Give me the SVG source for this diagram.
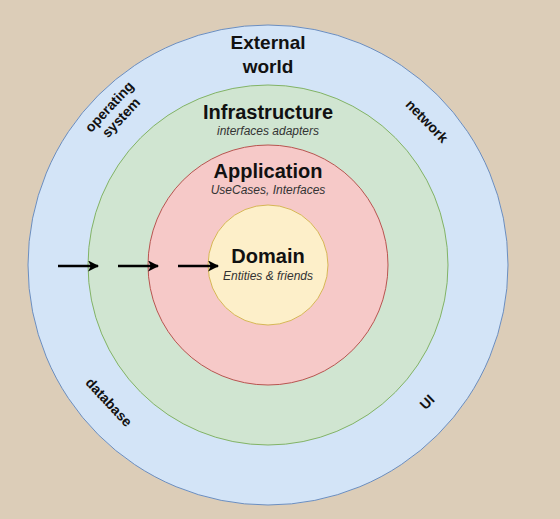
<svg xmlns="http://www.w3.org/2000/svg" width="560" height="519" viewBox="0 0 560 519">
<style>
.ring{stroke-width:1}
.t{font-family:"Liberation Sans",Arial,sans-serif;fill:#111;text-anchor:middle}
.b{font-weight:bold}
.h{font-size:20px}
.s{font-size:12px;font-style:italic;fill:#333}
.r{font-size:14px}
.arr{stroke:#000;stroke-width:2.5;fill:none}
</style>
<defs>
<marker id="ah" viewBox="0 0 10 10" refX="9" refY="5" markerWidth="4.4" markerHeight="4.4" orient="auto" markerUnits="strokeWidth">
<path d="M0,0 L10,5 L0,10 L2.5,5 Z" fill="#000"/>
</marker>
</defs>
<rect width="560" height="519" fill="#dccdb8"/>
<g id="external">
<circle cx="268" cy="265" r="240" fill="#d3e4f7" stroke="#6c8ebf"/>
<text class="t b" x="268" y="49" font-size="19">External</text>
<text class="t b" x="268" y="73" font-size="19">world</text>
<text class="t b r" transform="translate(115,112) rotate(-47)"><tspan x="0" y="-3">operating</tspan><tspan x="0" y="13">system</tspan></text>
<text class="t b r" transform="translate(427,121) rotate(46)" y="5">network</text>
<text class="t b r" transform="translate(109,402) rotate(47)" y="5">database</text>
<text class="t b r" transform="translate(427,402) rotate(-45)" y="5">UI</text>
</g>
<g id="infrastructure">
<circle cx="268" cy="265" r="180" fill="#d0e5d1" stroke="#82b366"/>
<text class="t b h" x="268" y="119">Infrastructure</text>
<text class="t s" x="268" y="135">interfaces adapters</text>
</g>
<g id="application">
<circle cx="268" cy="265" r="120" fill="#f6c9c8" stroke="#b85450"/>
<text class="t b h" x="268" y="178">Application</text>
<text class="t s" x="268" y="194">UseCases, Interfaces</text>
</g>
<g id="domain">
<circle cx="268" cy="265" r="60" fill="#fdefc9" stroke="#d6b656"/>
<text class="t b h" x="268" y="263">Domain</text>
<text class="t s" x="268" y="280">Entities &amp; friends</text>
</g>
<g id="connectors">
<line class="arr" x1="58" y1="266" x2="98" y2="266" marker-end="url(#ah)"/>
<line class="arr" x1="118" y1="266" x2="158" y2="266" marker-end="url(#ah)"/>
<line class="arr" x1="178" y1="266" x2="218" y2="266" marker-end="url(#ah)"/>
</g>
</svg>
